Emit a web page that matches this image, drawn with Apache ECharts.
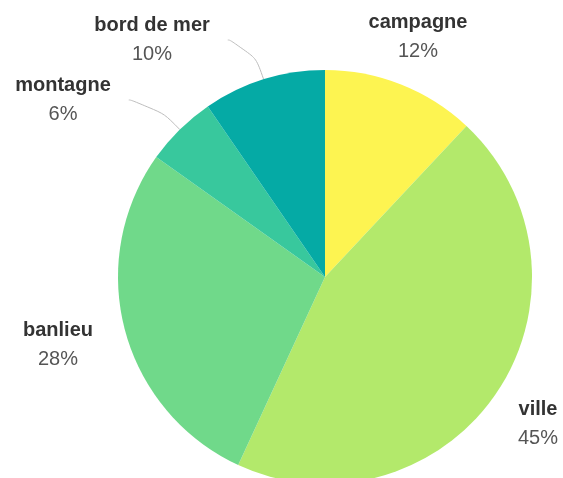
<!DOCTYPE html>
<html>
<head>
<meta charset="utf-8">
<script src="https://cdn.jsdelivr.net/npm/echarts@6/dist/echarts.min.js"></script>
<style>
	html, body { margin: 0; padding: 0; background: #fff; }
	#chart { width: 563px; height: 478px; }
</style>
</head>
<body>
<div id="chart"></div>
<script>
	// données (sens horaire depuis le haut)
	var categories = ['campagne', 'ville', 'banlieu', 'montagne', 'bord de mer'];
	var values = [12, 45, 28, 5.6, 9.6];
	var colors = ['#fdf451', '#b3e96b', '#70d98a', '#38c89d', '#05aaa5'];

	// emplacement des étiquettes (centre du bloc de texte)
	var labelSpots = [[418, 37], [538, 424], [58, 345], [63, 100], [152, 40]];
	// seules les petites parts ont un trait de rappel
	var showLine = [false, false, false, true, true];

	var pieData = [];
	for (var i = 0; i < categories.length; i++) {
		pieData.push({
			name: categories[i],
			value: values[i],
			itemStyle: { color: colors[i] },
			labelLine: { show: showLine[i] }
		});
	}

	var chart = echarts.init(document.getElementById('chart'));
	chart.setOption({
		animation: false,
		series: [{
			type: 'pie',
			center: [325, 277],
			radius: [0, 207],
			startAngle: 90,
			clockwise: true,
			avoidLabelOverlap: false,
			itemStyle: { borderWidth: 0 },
			label: {
				show: true,
				position: 'outside',
				fontFamily: 'Liberation Sans',
				padding: [0, 18, 0, 18],
				backgroundColor: 'rgba(0,0,0,0)',
				formatter: function (p) {
					return '{n|' + p.name + '}\n{p|' + Math.round(p.percent) + '%}';
				},
				rich: {
					n: { fontFamily: 'Liberation Sans', fontSize: 20, fontWeight: 'bold', color: '#333', lineHeight: 29, align: 'center' },
					p: { fontFamily: 'Liberation Sans', fontSize: 20, color: '#555', lineHeight: 29, align: 'center' }
				}
			},
			labelLine: {
				length: 10,
				length2: 22,
				smooth: 0.9,
				lineStyle: { color: '#bdbdbd', width: 1 }
			},
			labelLayout: function (params) {
				var spot = labelSpots[params.dataIndex];
				return { x: spot[0], y: spot[1], align: 'center', verticalAlign: 'middle' };
			},
			data: pieData
		}]
	});
</script>
</body>
</html>
